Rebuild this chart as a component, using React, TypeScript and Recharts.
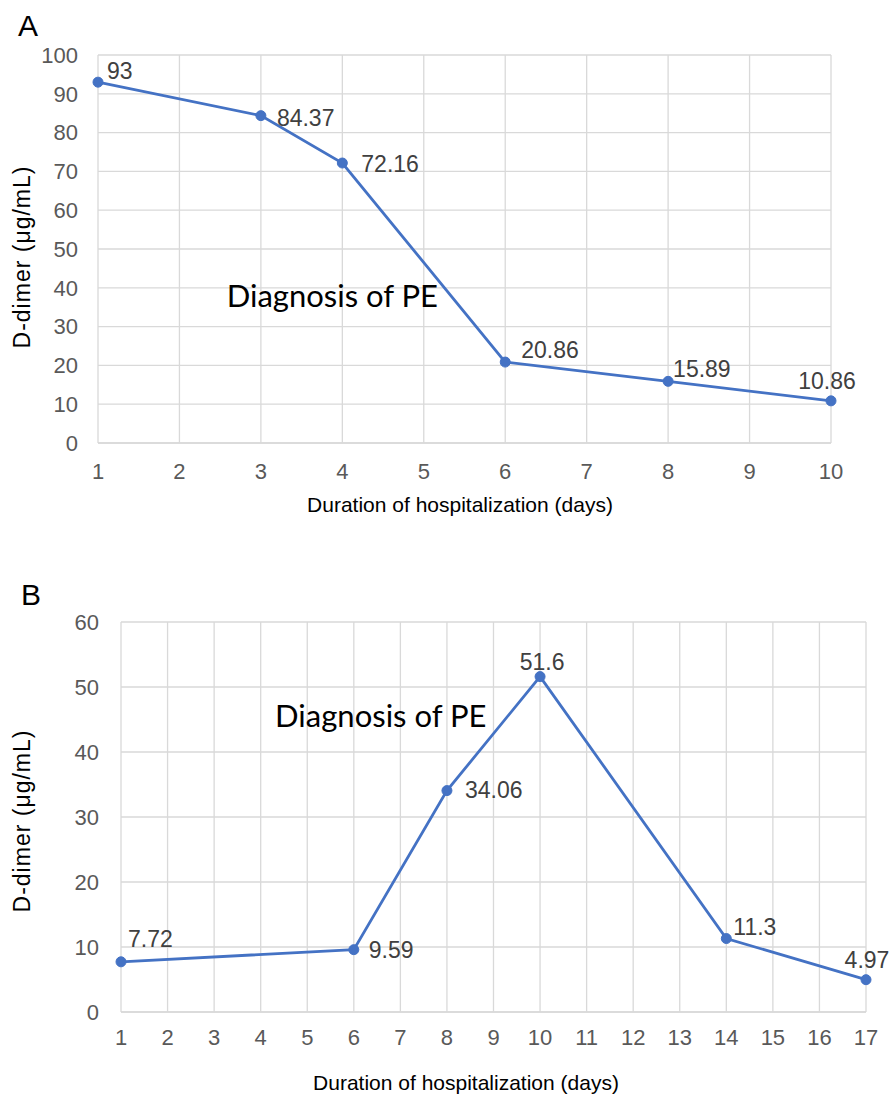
import React from 'react';
import {
  LineChart,
  Line,
  XAxis,
  YAxis,
  CartesianGrid,
  LabelList,
  ReferenceDot,
} from 'recharts';

// ---------- Data ----------
const daysA = [1, 3, 4, 6, 8, 10];
const dimerA = [93, 84.37, 72.16, 20.86, 15.89, 10.86];
const xTicksA = [1, 2, 3, 4, 5, 6, 7, 8, 9, 10];
const yTicksA = [0, 10, 20, 30, 40, 50, 60, 70, 80, 90, 100];

const daysB = [1, 6, 8, 10, 14, 17];
const dimerB = [7.72, 9.59, 34.06, 51.6, 11.3, 4.97];
const xTicksB = [1, 2, 3, 4, 5, 6, 7, 8, 9, 10, 11, 12, 13, 14, 15, 16, 17];
const yTicksB = [0, 10, 20, 30, 40, 50, 60];

const annotationA = { day: 2.58, value: 35 };
const annotationB = { day: 4.31, value: 43.8 };
const annotationText = 'Diagnosis of PE';
const xTitle = 'Duration of hospitalization (days)';
const yTitle = 'D-dimer (μg/mL)';

// ---------- Styles ----------
const BLUE = '#4472C4';
const GRID = '#d9d9d9';
const TICK = '#595959';
const LABEL = '#404040';
const SANS = '"Liberation Sans", Arial, sans-serif';
const CALLOUT = 'Lato, "Open Sans", sans-serif';

type Place = { dx: number; dy: number; anchor: 'start' | 'middle' | 'end' };
const placeA: Place[] = [
  { dx: 9, dy: -11, anchor: 'start' },
  { dx: 16, dy: 2, anchor: 'start' },
  { dx: 19, dy: 1, anchor: 'start' },
  { dx: 16, dy: -12, anchor: 'start' },
  { dx: 5, dy: -12, anchor: 'start' },
  { dx: -4, dy: -20, anchor: 'middle' },
];
const placeB: Place[] = [
  { dx: 7, dy: -23, anchor: 'start' },
  { dx: 15, dy: 0, anchor: 'start' },
  { dx: 18, dy: -1, anchor: 'start' },
  { dx: 2, dy: -15, anchor: 'middle' },
  { dx: 7, dy: -12, anchor: 'start' },
  { dx: 1, dy: -20, anchor: 'middle' },
];

const dataA = daysA.map((d, i) => ({ day: d, value: dimerA[i] }));
const dataB = daysB.map((d, i) => ({ day: d, value: dimerB[i] }));

const makeLabel = (places: Place[], values: number[]) => (props: any) => {
  const { x, y, value } = props;
  let idx = props.index;
  if (idx === undefined || idx === null) idx = values.indexOf(Number(value));
  const p = places[idx] || { dx: 8, dy: -10, anchor: 'start' };
  return (
    <text
      x={Number(x) + p.dx}
      y={Number(y) + p.dy}
      textAnchor={p.anchor}
      dominantBaseline="central"
      fontFamily={SANS}
      fontSize={23}
      fill={LABEL}
    >
      {value}
    </text>
  );
};

const calloutShape = (props: any) => (
  <text
    x={props.cx}
    y={props.cy}
    textAnchor="start"
    fontFamily={CALLOUT}
    fontSize={31}
    fill="#000"
  >
    {annotationText}
  </text>
);

const xTitleRenderer = (cx: number, baseline: number) => () => (
  <text x={cx} y={baseline} textAnchor="middle" fontFamily={SANS} fontSize={21} fill="#000">
    {xTitle}
  </text>
);

const yTitleRenderer = (cx: number, cy: number) => () => (
  <text
    x={cx}
    y={cy}
    transform={`rotate(-90 ${cx} ${cy})`}
    textAnchor="middle"
    dominantBaseline="central"
    fontFamily={SANS}
    fontSize={23}
    letterSpacing={1}
    fill="#000"
  >
    {yTitle}
  </text>
);

const tickStyle = { fontFamily: SANS, fontSize: 22, fill: TICK };

export default function App() {
  return (
    <div style={{ position: 'absolute', left: 0, top: 0, width: 890, height: 1097, background: '#fff' }}>
      <div
        style={{
          position: 'absolute',
          left: 18,
          top: 11,
          fontFamily: SANS,
          fontSize: 30,
          lineHeight: 1,
          color: '#000',
        }}
      >
        A
      </div>
      <div
        style={{
          position: 'absolute',
          left: 21,
          top: 580,
          fontFamily: SANS,
          fontSize: 30,
          lineHeight: 1,
          color: '#000',
        }}
      >
        B
      </div>

      <div style={{ position: 'absolute', left: 0, top: 0 }}>
        <LineChart
          width={890}
          height={530}
          data={dataA}
          margin={{ top: 55, right: 59, left: 0, bottom: 0 }}
        >
          <CartesianGrid stroke={GRID} strokeWidth={1.3} />
          <XAxis
            type="number"
            dataKey="day"
            domain={[1, 10]}
            ticks={xTicksA}
            interval={0}
            height={87}
            tickLine={false}
            tickMargin={14}
            axisLine={{ stroke: GRID, strokeWidth: 1.3 }}
            tick={tickStyle}
            label={xTitleRenderer(460, 512)}
          />
          <YAxis
            type="number"
            domain={[0, 100]}
            ticks={yTicksA}
            interval={0}
            width={98}
            tickLine={false}
            tickMargin={14}
            axisLine={false}
            tick={tickStyle}
            label={yTitleRenderer(22, 257)}
          />
          <ReferenceDot
            x={annotationA.day}
            y={annotationA.value}
            r={0}
            ifOverflow="visible"
            shape={calloutShape}
          />
          <Line
            type="linear"
            dataKey="value"
            stroke={BLUE}
            strokeWidth={2.8}
            dot={{ r: 5, fill: BLUE, stroke: BLUE, strokeWidth: 1 }}
            activeDot={false}
            isAnimationActive={false}
          >
            <LabelList dataKey="value" content={makeLabel(placeA, dimerA)} />
          </Line>
        </LineChart>
      </div>

      <div style={{ position: 'absolute', left: 0, top: 540 }}>
        <LineChart
          width={890}
          height={557}
          data={dataB}
          margin={{ top: 82, right: 24, left: 0, bottom: 0 }}
        >
          <CartesianGrid stroke={GRID} strokeWidth={1.3} />
          <XAxis
            type="number"
            dataKey="day"
            domain={[1, 17]}
            ticks={xTicksB}
            interval={0}
            height={85}
            tickLine={false}
            tickMargin={11}
            axisLine={{ stroke: GRID, strokeWidth: 1.3 }}
            tick={tickStyle}
            label={xTitleRenderer(466, 550)}
          />
          <YAxis
            type="number"
            domain={[0, 60]}
            ticks={yTicksB}
            interval={0}
            width={121}
            tickLine={false}
            tickMargin={16}
            axisLine={false}
            tick={tickStyle}
            label={yTitleRenderer(22, 281)}
          />
          <ReferenceDot
            x={annotationB.day}
            y={annotationB.value}
            r={0}
            ifOverflow="visible"
            shape={calloutShape}
          />
          <Line
            type="linear"
            dataKey="value"
            stroke={BLUE}
            strokeWidth={2.8}
            dot={{ r: 5, fill: BLUE, stroke: BLUE, strokeWidth: 1 }}
            activeDot={false}
            isAnimationActive={false}
          >
            <LabelList dataKey="value" content={makeLabel(placeB, dimerB)} />
          </Line>
        </LineChart>
      </div>
    </div>
  );
}
